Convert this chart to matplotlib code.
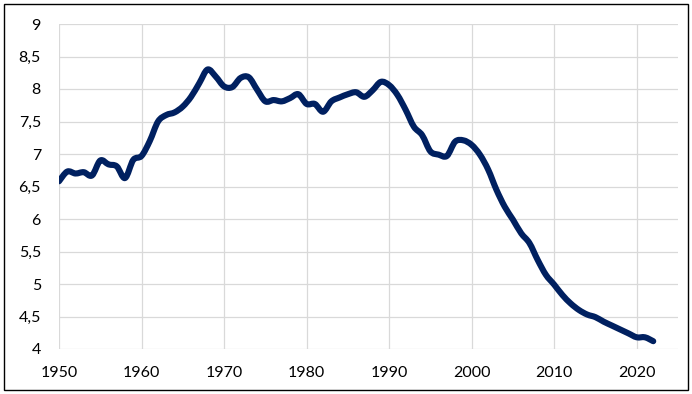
import matplotlib
matplotlib.use("Agg")
import matplotlib.pyplot as plt
import numpy as np
from matplotlib.patches import Rectangle, PathPatch
from matplotlib.path import Path
from matplotlib.ticker import FuncFormatter, MultipleLocator

years = list(range(1950, 2023))
values = [
    6.58, 6.73, 6.70, 6.72, 6.67, 6.90, 6.84, 6.81, 6.63, 6.91,   # 1950-1959
    6.97, 7.20, 7.50, 7.60, 7.64, 7.73, 7.88, 8.09, 8.30, 8.19,   # 1960-1969
    8.04, 8.03, 8.17, 8.18, 7.99, 7.81, 7.83, 7.81, 7.86, 7.92,   # 1970-1979
    7.77, 7.77, 7.65, 7.81, 7.87, 7.92, 7.95, 7.88, 7.98, 8.11,   # 1980-1989
    8.06, 7.91, 7.68, 7.42, 7.29, 7.04, 6.99, 6.97, 7.19, 7.21,   # 1990-1999
    7.14, 6.99, 6.76, 6.45, 6.19, 5.99, 5.78, 5.63, 5.37, 5.14,   # 2000-2009
    4.99, 4.83, 4.70, 4.60, 4.53, 4.49, 4.42, 4.36, 4.30, 4.24,   # 2010-2019
    4.18, 4.18, 4.12,                                             # 2020-2022
]

plt.rcParams['font.family'] = ['Lato', 'DejaVu Sans']

fig = plt.figure(figsize=(6.92, 3.94), dpi=100)
ax = fig.add_axes([59/692, 1-349/394, (678-59)/692, (349-24)/394])


def smooth_path(xs, ys):
    """Excel-style smoothed line: cubic Bezier segments with Catmull-Rom tangents."""
    p = np.column_stack([xs, ys]).astype(float)
    n = len(p)
    verts = [p[0]]
    codes = [Path.MOVETO]
    for i in range(n - 1):
        p0 = p[i - 1] if i > 0 else p[i]
        p1 = p[i]
        p2 = p[i + 1]
        p3 = p[i + 2] if i + 2 < n else p[i + 1]
        c1 = p1 + (p2 - p0) / 6.0
        c2 = p2 - (p3 - p1) / 6.0
        verts += [c1, c2, p2]
        codes += [Path.CURVE4] * 3
    return Path(verts, codes)


line = PathPatch(smooth_path(years, values), transform=ax.transData,
                 facecolor='none', edgecolor='#002060', lw=4.4,
                 joinstyle='round', capstyle='round', zorder=3)
ax.add_patch(line)

ax.set_xlim(1950, 2025)
ax.set_ylim(4, 9)
ax.xaxis.set_major_locator(MultipleLocator(10))
ax.yaxis.set_major_locator(MultipleLocator(0.5))
ax.yaxis.set_major_formatter(FuncFormatter(lambda v, p: ('%g' % v).replace('.', ',')))
ax.grid(True, color='#d9d9d9', lw=0.9, zorder=0)
ax.set_axisbelow(True)
for s in ax.spines.values():
    s.set_visible(False)
ax.tick_params(length=0, labelsize=11.5, colors='black')
ax.tick_params(axis='y', pad=13)
ax.tick_params(axis='x', pad=12)

fig.patches.append(Rectangle((4/692, 1-390/394), (688-4)/692, (390-4)/394,
                             transform=fig.transFigure, fill=False,
                             edgecolor='black', lw=1.0))

fig.savefig('out.png', dpi=100)
